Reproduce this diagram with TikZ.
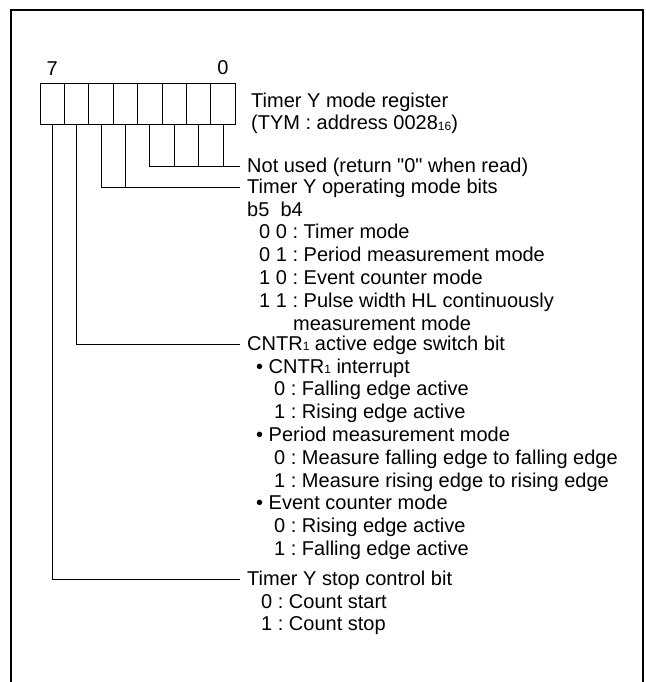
\documentclass[tikz,border=0pt]{standalone}
\usepackage{fontspec}
\setmainfont{Liberation Sans}[Ligatures=TeXOff]
\usetikzlibrary{positioning}
\newcommand{\lowdig}[1]{\raisebox{-0.5pt}{\fontsize{12}{12}\selectfont #1}}
\frenchspacing

\begin{document}
\begin{tikzpicture}[
    x=1pt, y=-1pt,
    font=\fontsize{20}{22.8}\selectfont,
    bitcell/.style={draw, line width=0.9pt, minimum width=24.4pt, minimum height=41pt, inner sep=0pt, outer sep=0pt},
    bitnum/.style={inner sep=0pt},
    lead/.style={line width=0.9pt},
    fieldname/.style={anchor=west, inner xsep=7pt, inner ysep=0pt, text height=12pt, text depth=0pt},
    fielddesc/.style={anchor=north west, align=left, inner sep=0pt},
    frame/.style={line width=2.4pt}
]
\useasboundingbox (0,0) rectangle (645,682);

% === FRAME (open at the bottom) ===
\draw[frame] (11,686) -- (11,10) -- (643,10) -- (643,686);

% === REGISTER: bits 7 .. 0 ===
\node[bitcell] (b7) at (52.2,103.5) {};
\node[bitcell, right=0pt of b7] (b6) {};
\node[bitcell, right=0pt of b6] (b5) {};
\node[bitcell, right=0pt of b5] (b4) {};
\node[bitcell, right=0pt of b4] (b3) {};
\node[bitcell, right=0pt of b3] (b2) {};
\node[bitcell, right=0pt of b2] (b1) {};
\node[bitcell, right=0pt of b1] (b0) {};

\node[bitnum, above=7.7pt of b7] (n7) {7};
\node[bitnum, above=7.7pt of b0] (n0) {0};

\node[fielddesc] (title) at (251,91) {\strut Timer Y mode register\\(TYM : address 0028\lowdig{16})};

% === FIELD LABELS ===
\node[fieldname] (unused) at (240,166) {Not used (return "0" when read)};
\node[fieldname] (opmode) at (240,187) {Timer Y operating mode bits};
\node[fieldname] (edge) at (240,344) {CNTR\lowdig{1} active edge switch bit};
\node[fieldname] (stop) at (240,579) {Timer Y stop control bit};

% === FIELD DESCRIPTIONS ===
\node[fielddesc] (opdesc) at ([xshift=7pt,yshift=-6.84pt]opmode.base west) {\strut b5~~b4\\
\hspace*{12pt}0 0 : Timer mode\\
\hspace*{12pt}0 1 : Period measurement mode\\
\hspace*{12pt}1 0 : Event counter mode\\
\hspace*{12pt}1 1 : Pulse width HL continuously\\
\hspace*{46pt}measurement mode};

\node[fielddesc] (edgedesc) at ([xshift=7pt,yshift=-6.84pt]edge.base west) {\strut\hspace*{9pt}• CNTR\lowdig{1} interrupt\\
\hspace*{27pt}0 : Falling edge active\\
\hspace*{27pt}1 : Rising edge active\\
\hspace*{9pt}• Period measurement mode\\
\hspace*{27pt}0 : Measure falling edge to falling edge\\
\hspace*{27pt}1 : Measure rising edge to rising edge\\
\hspace*{9pt}• Event counter mode\\
\hspace*{27pt}0 : Rising edge active\\
\hspace*{27pt}1 : Falling edge active};

\node[fielddesc] (stopdesc) at ([xshift=7pt,yshift=-6.84pt]stop.base west) {\strut\hspace*{14pt}0 : Count start\\
\hspace*{14pt}1 : Count stop};

% === LEADERS ===
% Not used: bits 3..0
\draw[lead] (b3.south) |- (unused.west);
\draw[lead] (b2.south) -- (b2.south |- unused.west);
\draw[lead] (b1.south) -- (b1.south |- unused.west);
\draw[lead] (b0.south) -- (b0.south |- unused.west);

% Operating mode: bits 5, 4
\draw[lead] (b5.south) |- (opmode.west);
\draw[lead] (b4.south) -- (b4.south |- opmode.west);

% Edge switch: bit 6
\draw[lead] (b6.south) |- (edge.west);

% Stop control: bit 7
\draw[lead] (b7.south) |- (stop.west);

\end{tikzpicture}
\end{document}
